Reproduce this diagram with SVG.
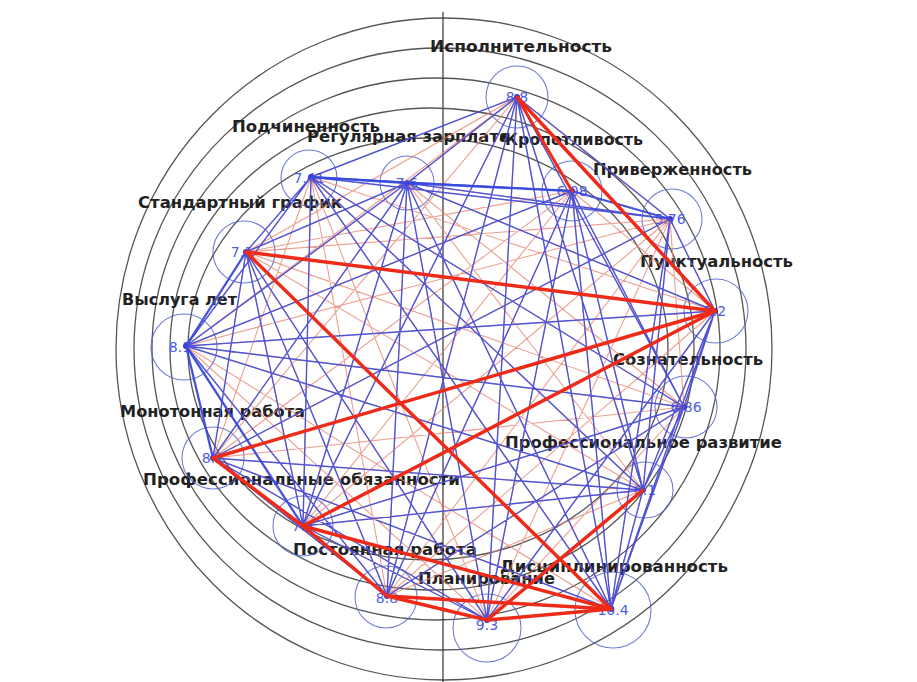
<svg xmlns="http://www.w3.org/2000/svg" width="917" height="682" viewBox="0 0 917 682">
<style>
.bg{fill:none;stroke:#555;stroke-width:1.3}
.axis{stroke:#333;stroke-width:1.2}
.ring{fill:none;stroke:#5566cc;stroke-width:1.1;opacity:.85}
.val{font-family:"DejaVu Sans",sans-serif;font-size:14px;fill:#4b5de4;text-anchor:middle}
.lbl{font-family:"DejaVu Sans",sans-serif;font-size:15px;font-weight:bold;fill:#222}
.dot{fill:#4433cc}
.lr{fill:none;stroke:#e5806a;stroke-width:1.1;opacity:.75}
.bl{fill:none;stroke:#3347e0;stroke-width:1.4;opacity:.85}
.blt{fill:none;stroke:#3347e0;stroke-width:2.3;opacity:.9;stroke-linejoin:round}
.rd{stroke:#ee2a18;stroke-width:3.5;stroke-linecap:round}
</style>
<rect width="917" height="682" fill="#fff"/>
<g id="grid">
<ellipse class="bg" cx="444" cy="349" rx="328" ry="331"/>
<ellipse class="bg" cx="440" cy="349" rx="306" ry="301"/>
<ellipse class="bg" cx="436" cy="349" rx="284" ry="271"/>
<ellipse class="bg" cx="432" cy="349" rx="262" ry="241"/>
<ellipse class="bg" cx="428" cy="349" rx="240" ry="211"/>
<line class="axis" x1="443" y1="12" x2="443" y2="682"/>
</g>
<g id="n1" class="node"><circle class="ring" cx="517" cy="97" r="31"/><text class="val" x="517" y="102">8.8</text><text class="lbl" x="430" y="52" textLength="182" lengthAdjust="spacingAndGlyphs">Исполнительность</text><circle class="dot" cx="517" cy="97" r="3"/></g>
<g id="n2" class="node"><circle class="ring" cx="572" cy="191" r="30"/><text class="val" x="572" y="196">6.08</text><text class="lbl" x="505" y="145" textLength="138" lengthAdjust="spacingAndGlyphs">Кропотливость</text><circle class="dot" cx="572" cy="191" r="3"/><circle cx="503" cy="137" r="3" fill="#222"/></g>
<g id="n3" class="node"><circle class="ring" cx="672" cy="219" r="30"/><text class="val" x="670" y="224">5.76</text><text class="lbl" x="593" y="175" textLength="159" lengthAdjust="spacingAndGlyphs">Приверженность</text><circle class="dot" cx="670" cy="219" r="3"/></g>
<g id="n4" class="node"><circle class="ring" cx="716" cy="311" r="32"/><text class="val" x="715" y="316">7.2</text><text class="lbl" x="640" y="267" textLength="153" lengthAdjust="spacingAndGlyphs">Пунктуальность</text><circle class="dot" cx="715" cy="311" r="3"/></g>
<g id="n5" class="node"><circle class="ring" cx="686" cy="407" r="31"/><text class="val" x="686" y="412">6.86</text><text class="lbl" x="613" y="365" textLength="150" lengthAdjust="spacingAndGlyphs">Сознательность</text><circle class="dot" cx="684" cy="407" r="3"/></g>
<g id="n6" class="node"><circle class="ring" cx="645" cy="490" r="28"/><text class="val" x="645" y="495">6.1</text><text class="lbl" x="505" y="448" textLength="277" lengthAdjust="spacingAndGlyphs">Профессиональное развитие</text><circle class="dot" cx="643" cy="490" r="3"/></g>
<g id="n7" class="node"><circle class="ring" cx="613" cy="610" r="38"/><text class="val" x="613" y="615">10.4</text><text class="lbl" x="500" y="572" textLength="228" lengthAdjust="spacingAndGlyphs">Дисциплинированность</text><circle class="dot" cx="611" cy="609" r="3"/></g>
<g id="n8" class="node"><circle class="ring" cx="487" cy="628" r="34"/><text class="val" x="487" y="630">9.3</text><text class="lbl" x="418" y="584" textLength="137" lengthAdjust="spacingAndGlyphs">Планирование</text><circle class="dot" cx="487" cy="620" r="3"/></g>
<g id="n9" class="node"><circle class="ring" cx="386" cy="597" r="31"/><text class="val" x="387" y="603">8.8</text><text class="lbl" x="293" y="555" textLength="184" lengthAdjust="spacingAndGlyphs">Постоянная работа</text><circle class="dot" cx="387" cy="596" r="3"/></g>
<g id="n10" class="node"><circle class="ring" cx="303" cy="526" r="30"/><text class="val" x="303" y="531">7.4</text><text class="lbl" x="143" y="485" textLength="317" lengthAdjust="spacingAndGlyphs">Профессиональные обязанности</text><circle class="dot" cx="303" cy="526" r="3"/></g>
<g id="n11" class="node"><circle class="ring" cx="213" cy="458" r="31"/><text class="val" x="213" y="463">8.2</text><text class="lbl" x="120" y="417" textLength="185" lengthAdjust="spacingAndGlyphs">Монотонная работа</text><circle class="dot" cx="213" cy="458" r="3"/></g>
<g id="n12" class="node"><circle class="ring" cx="184" cy="347" r="33"/><text class="val" x="180" y="352">8.1</text><text class="lbl" x="122" y="305" textLength="115" lengthAdjust="spacingAndGlyphs">Выслуга лет</text><circle class="dot" cx="186" cy="346" r="3"/></g>
<g id="n13" class="node"><circle class="ring" cx="244" cy="252" r="31"/><text class="val" x="242" y="257">7.1</text><text class="lbl" x="138" y="208" textLength="204" lengthAdjust="spacingAndGlyphs">Стандартный график</text><circle class="dot" cx="246" cy="252" r="3"/></g>
<g id="n14" class="node"><circle class="ring" cx="309" cy="178" r="28"/><text class="val" x="309" y="183">7.41</text><text class="lbl" x="232" y="132" textLength="148" lengthAdjust="spacingAndGlyphs">Подчиненность</text><circle class="dot" cx="311" cy="177" r="3"/></g>
<g id="n15" class="node"><circle class="ring" cx="407" cy="183" r="27"/><text class="val" x="407" y="188">7.6</text><text class="lbl" x="307" y="142" textLength="203" lengthAdjust="spacingAndGlyphs">Регулярная зарплата</text><circle class="dot" cx="407" cy="183" r="3"/></g>
<g id="connectors">
<path class="lr" d="M517 97L572 191M517 97L670 219M517 97L715 311M517 97L684 407M517 97L643 490M517 97L611 609M517 97L487 620M517 97L387 596M517 97L303 526M517 97L213 458M517 97L186 346M517 97L246 252M517 97L311 177M517 97L407 183M572 191L670 219M572 191L715 311M572 191L684 407M572 191L643 490M572 191L611 609M572 191L487 620M572 191L387 596M572 191L303 526M572 191L213 458M572 191L186 346M572 191L246 252M572 191L311 177M572 191L407 183M670 219L715 311M670 219L684 407M670 219L643 490M670 219L611 609M670 219L487 620M670 219L387 596M670 219L303 526M670 219L213 458M670 219L186 346M670 219L246 252M670 219L311 177M670 219L407 183M715 311L684 407M715 311L643 490M715 311L611 609M715 311L487 620M715 311L387 596M715 311L303 526M715 311L213 458M715 311L186 346M715 311L246 252M715 311L311 177M715 311L407 183M684 407L643 490M684 407L611 609M684 407L487 620M684 407L387 596M684 407L303 526M684 407L213 458M684 407L186 346M684 407L246 252M684 407L311 177M684 407L407 183M643 490L611 609M643 490L487 620M643 490L387 596M643 490L303 526M643 490L213 458M643 490L186 346M643 490L246 252M643 490L311 177M643 490L407 183M611 609L487 620M611 609L387 596M611 609L303 526M611 609L213 458M611 609L186 346M611 609L246 252M611 609L311 177M611 609L407 183M487 620L387 596M487 620L303 526M487 620L213 458M487 620L186 346M487 620L246 252M487 620L311 177M487 620L407 183M387 596L303 526M387 596L213 458M387 596L186 346M387 596L246 252M387 596L311 177M387 596L407 183M303 526L213 458M303 526L186 346M303 526L246 252M303 526L311 177M303 526L407 183M213 458L186 346M213 458L246 252M213 458L311 177M213 458L407 183M186 346L246 252M186 346L311 177M186 346L407 183M246 252L311 177M246 252L407 183M311 177L407 183"/>
<path class="bl" d="M517 97L670 219M517 97L684 407M517 97L643 490M517 97L611 609M517 97L487 620M517 97L387 596M517 97L303 526M517 97L311 177M517 97L407 183M572 191L684 407M572 191L643 490M572 191L611 609M572 191L487 620M572 191L387 596M572 191L186 346M572 191L311 177M670 219L715 311M670 219L643 490M670 219L611 609M670 219L213 458M670 219L311 177M670 219L407 183M715 311L684 407M715 311L643 490M715 311L611 609M715 311L487 620M715 311L186 346M715 311L407 183M684 407L643 490M684 407L611 609M684 407L387 596M684 407L303 526M684 407L186 346M684 407L311 177M643 490L611 609M643 490L303 526M643 490L213 458M643 490L186 346M643 490L311 177M611 609L213 458M611 609L311 177M611 609L407 183M487 620L303 526M487 620L213 458M487 620L246 252M487 620L407 183M387 596L213 458M387 596L186 346M387 596L246 252M387 596L407 183M303 526L246 252M303 526L311 177M303 526L407 183M213 458L246 252M213 458L407 183M186 346L311 177M186 346L407 183M246 252L311 177M246 252L407 183"/>
<path class="blt" d="M311 177L407 183L572 191L670 219M246 252L186 346L213 458M186 346L303 526"/>
<line class="rd" x1="517" y1="97" x2="572" y2="191" style="stroke-width:3"/>
<line class="rd" x1="517" y1="97" x2="715" y2="311"/>
<line class="rd" x1="246" y1="252" x2="715" y2="311"/>
<line class="rd" x1="246" y1="252" x2="611" y2="609"/>
<line class="rd" x1="213" y1="458" x2="715" y2="311"/>
<line class="rd" x1="303" y1="526" x2="715" y2="311"/>
<line class="rd" x1="213" y1="458" x2="303" y2="526"/>
<line class="rd" x1="303" y1="526" x2="387" y2="596"/>
<line class="rd" x1="303" y1="526" x2="611" y2="609"/>
<line class="rd" x1="387" y1="596" x2="611" y2="609"/>
<line class="rd" x1="487" y1="620" x2="643" y2="490"/>
<line class="rd" x1="387" y1="596" x2="487" y2="620"/>
<line class="rd" x1="487" y1="620" x2="611" y2="609"/>
</g>
</svg>
